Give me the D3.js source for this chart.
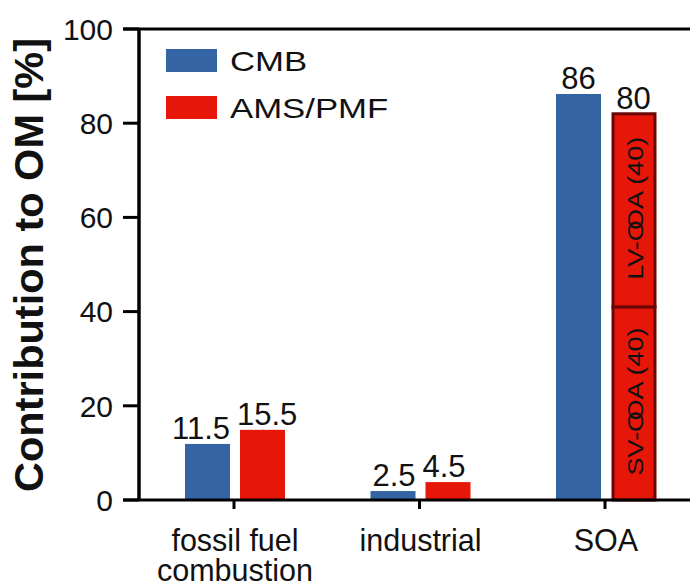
<!DOCTYPE html>
<html>
<head>
<meta charset="utf-8">
<script src="https://cdn.jsdelivr.net/npm/d3@7"></script>
<style>
  body { margin: 0; background: #fff; }
  text { font-family: "Liberation Sans", Arial, sans-serif; fill: #111; }
</style>
</head>
<body>
<div id="chart"></div>
<script>
// chart data
const categories = ['fossil fuel\ncombustion', 'industrial', 'SOA'];
const series = ['CMB', 'AMS/PMF'];
const cmbValues = [11.9, 1.9, 86.2];
const amsValues = [14.9, 3.8, null];       // SOA for AMS/PMF is stacked below
const cmbLabels = ['11.5', '2.5', '86'];
const amsLabels = ['15.5', '4.5', '80'];
const soaStack = [
  { name: 'SV-OOA (40)', value: 41 },
  { name: 'LV-OOA (40)', value: 41 }
];
const yTicks = [0, 20, 40, 60, 80, 100];

const colors = { CMB: '#3564a5', 'AMS/PMF': '#e61608' };

const width = 690, height = 588;
const svg = d3.select('#chart').append('svg')
  .attr('width', width)
  .attr('height', height);

// scales
const yScale = d3.scaleLinear().domain([0, 100]).range([500, 29]);
const xScale = d3.scalePoint().domain(categories).range([235, 606]);
const barW = 45, gap = 5;

// frame: left axis, top line
svg.append('line')
  .attr('x1', 139).attr('x2', 139)
  .attr('y1', yScale(100)).attr('y2', yScale(0))
  .attr('stroke', '#000').attr('stroke-width', 3.5);
svg.append('line')
  .attr('x1', 123).attr('x2', width)
  .attr('y1', yScale(100)).attr('y2', yScale(100))
  .attr('stroke', '#000').attr('stroke-width', 3);

// y axis ticks + labels
const yAxis = svg.append('g');
yTicks.forEach(t => {
  yAxis.append('line')
    .attr('x1', 123).attr('x2', 139)
    .attr('y1', yScale(t)).attr('y2', yScale(t))
    .attr('stroke', '#000').attr('stroke-width', 3);
  yAxis.append('text')
    .attr('x', 113)
    .attr('y', yScale(t))
    .attr('dy', '0.36em')
    .attr('text-anchor', 'end')
    .style('font-size', '30px')
    .text(t);
});

// y axis title
svg.append('text')
  .attr('transform', `translate(43, 265) rotate(-90)`)
  .attr('text-anchor', 'middle')
  .style('font-size', '41.5px')
  .style('font-weight', 'bold')
  .text('Contribution to OM [%]');

// long labels hug the inner edge of the pair, short ones are centred
function valueLabel(label, left, right, top, side) {
  const long = label.length > 2;
  svg.append('text')
    .attr('x', long ? (side === 'left' ? right : left - 3) : (left + right) / 2)
    .attr('y', top - 5)
    .attr('text-anchor', long ? (side === 'left' ? 'end' : 'start') : 'middle')
    .style('font-size', '31px')
    .text(label);
}

// bars
categories.forEach((cat, i) => {
  const cx = xScale(cat);

  // CMB bar
  svg.append('rect')
    .attr('x', cx - gap - barW)
    .attr('y', yScale(cmbValues[i]))
    .attr('width', barW)
    .attr('height', yScale(0) - yScale(cmbValues[i]))
    .attr('fill', colors.CMB);
  valueLabel(cmbLabels[i], cx - gap - barW, cx - gap, yScale(cmbValues[i]), 'left');

  // AMS/PMF bar (plain or stacked)
  if (amsValues[i] !== null) {
    svg.append('rect')
      .attr('x', cx + gap)
      .attr('y', yScale(amsValues[i]))
      .attr('width', barW)
      .attr('height', yScale(0) - yScale(amsValues[i]))
      .attr('fill', colors['AMS/PMF']);
    valueLabel(amsLabels[i], cx + gap, cx + gap + barW, yScale(amsValues[i]), 'right');
  } else {
    let base = 0;
    const bx = cx + gap + 2;
    const bw = barW - 3;
    soaStack.forEach(seg => {
      const y0 = yScale(base), y1 = yScale(base + seg.value);
      svg.append('rect')
        .attr('x', bx)
        .attr('y', y1)
        .attr('width', bw)
        .attr('height', y0 - y1)
        .attr('fill', colors['AMS/PMF'])
        .attr('stroke', '#6a0606')
        .attr('stroke-width', 3);
      // segment label with the overlapping "OO" of the original
      const parts = seg.name.split('OO');
      const t = svg.append('text')
        .attr('transform', `translate(${bx + bw / 2 + 0.5}, ${(y0 + y1) / 2 - 2}) rotate(-90) scale(1.2, 1)`)
        .attr('text-anchor', 'middle')
        .attr('dy', '0.36em')
        .style('font-size', '22.5px');
      t.append('tspan').text(parts[0] + 'O');
      t.append('tspan').attr('dx', -8).text('O' + parts[1]);
      base += seg.value;
    });
    const total = d3.sum(soaStack, d => d.value);
    valueLabel(amsLabels[i], cx + gap, cx + gap + barW, yScale(total), 'right');
  }

  // x tick + label
  svg.append('line')
    .attr('x1', cx - 1).attr('x2', cx - 1)
    .attr('y1', yScale(0)).attr('y2', yScale(0) + 9)
    .attr('stroke', '#000').attr('stroke-width', 3);
  const lines = cat.split('\n');
  lines.forEach((ln, k) => {
    svg.append('text')
      .attr('x', cx)
      .attr('y', 551 + k * 30)
      .attr('text-anchor', 'middle')
      .style('font-size', '30.5px')
      .text(ln);
  });
});

// bottom axis line (drawn over bars)
svg.append('line')
  .attr('x1', 123).attr('x2', width)
  .attr('y1', yScale(0)).attr('y2', yScale(0))
  .attr('stroke', '#000').attr('stroke-width', 3);

// legend
const legend = svg.append('g');
series.forEach((s, i) => {
  legend.append('rect')
    .attr('x', 166)
    .attr('y', 49 + i * 47)
    .attr('width', 51)
    .attr('height', 23)
    .attr('fill', colors[s]);
  legend.append('text')
    .attr('transform', `translate(230, ${71 + i * 47}) scale(1.22, 1)`)
    .style('font-size', '28.5px')
    .text(s);
});
</script>
</body>
</html>
